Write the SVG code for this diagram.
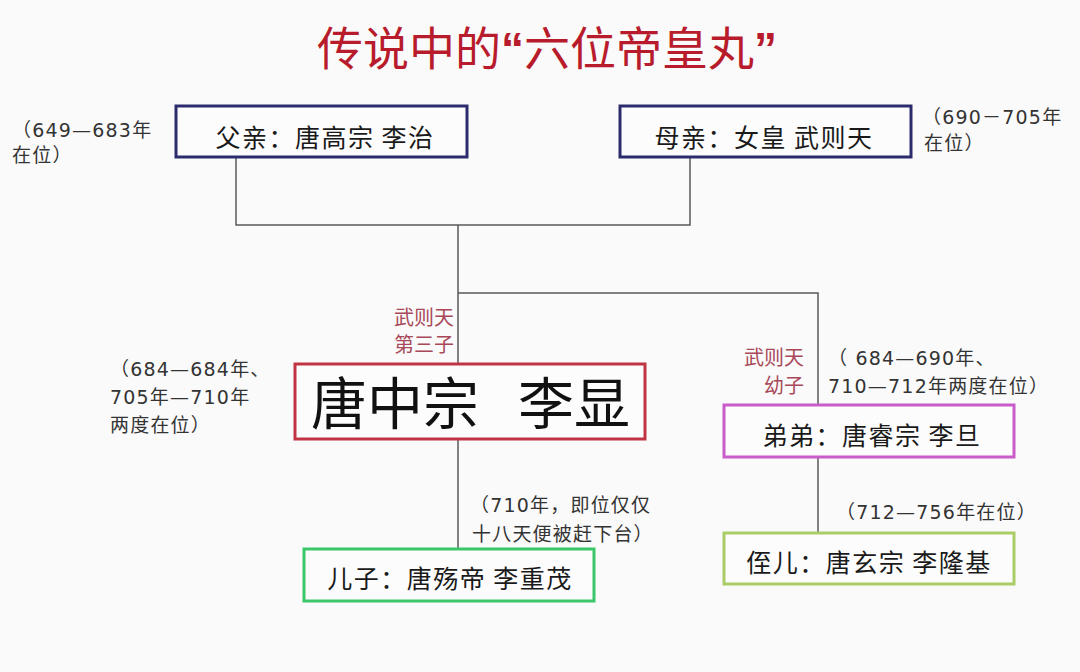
<svg xmlns="http://www.w3.org/2000/svg" width="1080" height="672" viewBox="0 0 1080 672">
<style>
text{font-family:"Liberation Sans","Noto Sans CJK SC",sans-serif;fill:#222}
.ann{font-family:"DejaVu Sans","Noto Sans CJK SC",sans-serif;font-size:19px;fill:#333;letter-spacing:1.2px}
.red{font-family:"Noto Sans CJK SC",sans-serif;font-size:20px;fill:#a84858}
.name{font-family:"Noto Sans CJK SC",sans-serif;font-size:25px;fill:#1a1a1a;text-anchor:middle;letter-spacing:1.5px}
.box{fill:#fcfcfc;stroke-width:3}
.conn{stroke:#5a5a5a;stroke-width:1.5;fill:none}
</style>
<rect width="1080" height="672" fill="#fafafa"/>
<text x="547" y="65" text-anchor="middle" style="font-size:46px;fill:#b81c2c;font-family:'Noto Sans CJK SC',sans-serif">传说中的<tspan style="font-family:'Liberation Sans',sans-serif;font-weight:bold">“</tspan>六位帝皇丸<tspan style="font-family:'Liberation Sans',sans-serif;font-weight:bold">”</tspan></text>
<g id="connectors">
<path class="conn" d="M236 157V225H690V157M458 225V364M458 293H818V405M458 440V549M818 458V533"/>
</g>
<g id="father">
<rect class="box" x="176" y="106" width="291" height="51" stroke="#2c2c6c"/>
<text class="name" x="325" y="147">父亲：唐高宗 李治</text>
<text class="ann" x="12" y="137">（649—683年</text>
<text class="ann" x="12" y="162">在位）</text>
</g>
<g id="mother">
<rect class="box" x="620" y="106" width="291" height="51" stroke="#2c2c6c"/>
<text class="name" x="764" y="147">母亲：女皇 武则天</text>
<text class="ann" x="922" y="124">（690－705年</text>
<text class="ann" x="924" y="150">在位）</text>
</g>
<g id="zhongzong">
<rect class="box" x="295" y="364" width="350" height="75" stroke="#c03444"/>
<text x="311" y="424" style="font-size:56px;fill:#111;font-family:'Noto Sans CJK SC',sans-serif">唐中宗</text>
<text x="518" y="424" style="font-size:56px;fill:#111;font-family:'Noto Sans CJK SC',sans-serif">李显</text>
<text class="red" x="454" y="325" text-anchor="end">武则天</text>
<text class="red" x="454" y="352" text-anchor="end">第三子</text>
<text class="ann" x="110" y="376">（684—684年、</text>
<text class="ann" x="110" y="404">705年—710年</text>
<text class="ann" x="110" y="432">两度在位）</text>
</g>
<g id="son">
<rect class="box" x="304" y="549" width="290" height="52" stroke="#3cc66a"/>
<text class="name" x="450" y="588">儿子：唐殇帝 李重茂</text>
<text class="ann" x="470" y="512">（710年，即位仅仅</text>
<text class="ann" x="472" y="541">十八天便被赶下台）</text>
</g>
<g id="ruizong">
<rect class="box" x="724" y="405" width="290" height="52" stroke="#c85cc8"/>
<text class="name" x="872" y="445">弟弟：唐睿宗 李旦</text>
<text class="red" x="804" y="365" text-anchor="end">武则天</text>
<text class="red" x="804" y="393" text-anchor="end">幼子</text>
<text class="ann" x="828" y="365">（ 684—690年、</text>
<text class="ann" x="828" y="393">710—712年两度在位）</text>
</g>
<g id="xuanzong">
<rect class="box" x="724" y="533" width="290" height="51" stroke="#aacc66"/>
<text class="name" x="869" y="572">侄儿：唐玄宗 李隆基</text>
<text class="ann" x="836" y="519">（712—756年在位）</text>
</g>
</svg>
